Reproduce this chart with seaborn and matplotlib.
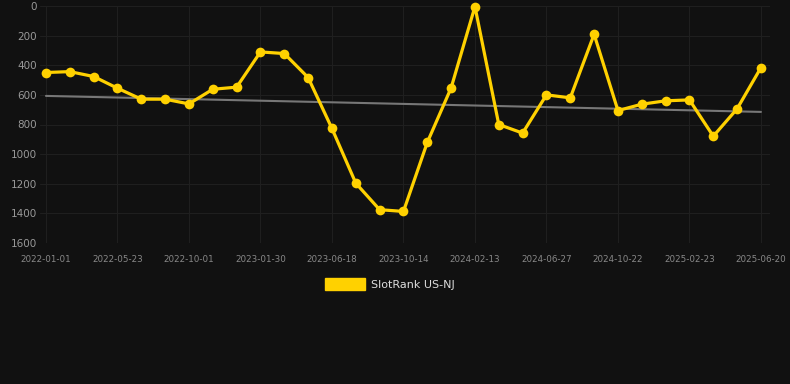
import numpy as np
import pandas as pd
import matplotlib
matplotlib.use("Agg")
import matplotlib.pyplot as plt
import seaborn as sns
from matplotlib.patches import Patch

# ---- data ----
rank_values = [449, 443, 476, 555, 629, 629, 661, 562, 548, 310, 321, 483, 827,
               1196, 1375, 1387, 921, 553, 4, 800, 858, 600, 620, 191, 706, 663,
               640, 634, 879, 694, 416]
tick_labels = ["2022-01-01", "2022-05-23", "2022-10-01", "2023-01-30", "2023-06-18",
               "2023-10-14", "2024-02-13", "2024-06-27", "2024-10-22", "2025-02-23",
               "2025-06-20"]
trend_x = [0, 30]
trend_values = [607, 715]
series_name = "SlotRank US-NJ"

df = pd.DataFrame({"idx": np.arange(len(rank_values)), "rank": rank_values})
trend_df = pd.DataFrame({"idx": trend_x, "rank": trend_values})

sns.set_theme(style="dark")
bg = "#111111"
fig = plt.figure(figsize=(7.9, 3.84), dpi=100, facecolor=bg)
ax = fig.add_axes([40/790, 141/384, 730/790, 237/384])
ax.set_facecolor(bg)

gold = "#FFD100"
sns.lineplot(data=trend_df, x="idx", y="rank", ax=ax, color="#777777", lw=1.5, zorder=2)
sns.lineplot(data=df, x="idx", y="rank", ax=ax, color=gold, lw=2.3,
             marker="o", markersize=7, markeredgewidth=0, zorder=3, clip_on=False)

ax.set_ylim(1600, 0)
ax.set_xlim(-0.25, 30.38)
ax.set_yticks(np.arange(0, 1601, 200))
ax.set_xticks(np.arange(0, len(rank_values), 3))
ax.set_xticklabels(tick_labels)
ax.tick_params(axis="y", labelsize=7.5, colors="#999999", length=0, pad=2)
ax.tick_params(axis="x", labelsize=6.3, colors="#888888", length=0, pad=9)
ax.grid(True, color="#1f1f1f", lw=0.8)
for s in ax.spines.values():
    s.set_visible(False)
ax.set_xlabel("")
ax.set_ylabel("")

fig.legend(handles=[Patch(facecolor=gold, edgecolor=gold)], labels=[series_name],
           loc="center", bbox_to_anchor=(390/790, 1 - 284/384), frameon=False,
           handlelength=3.6, handleheight=1.2, fontsize=8, labelcolor="#dddddd",
           handletextpad=0.5)

fig.savefig("out.png", dpi=100, facecolor=bg)
